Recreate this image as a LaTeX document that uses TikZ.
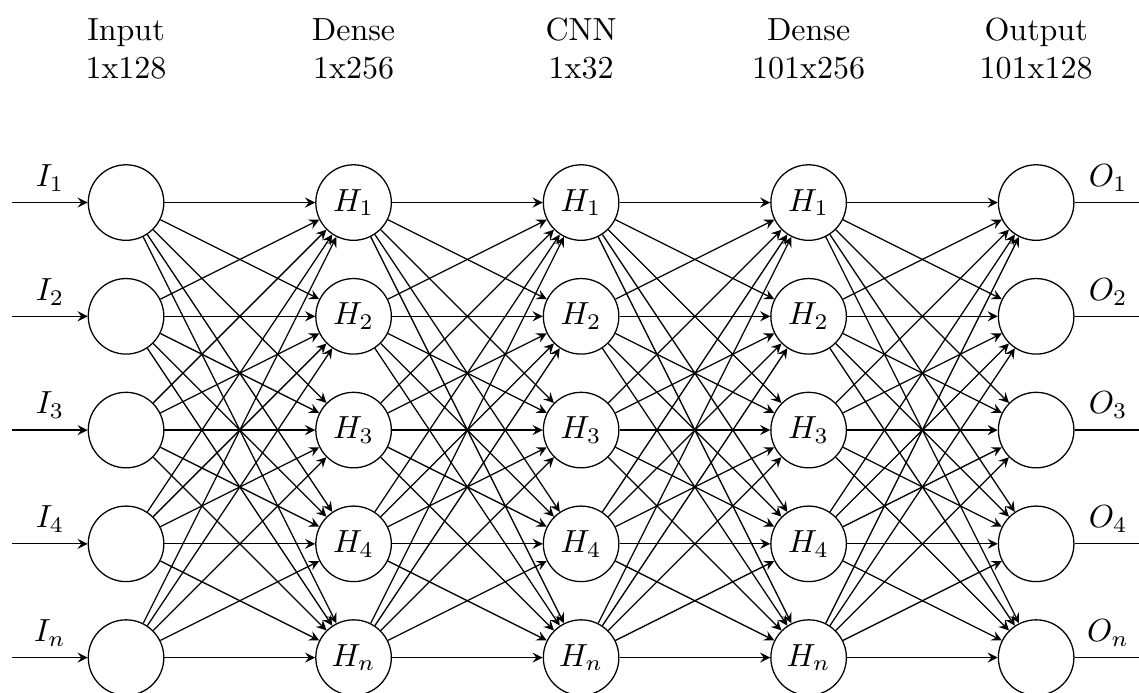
\documentclass[tikz,border=0pt]{standalone}
\usepackage{amsmath,amssymb}

\tikzset{
  neuron/.style={circle, draw, minimum size=0.83cm, inner sep=1pt},
  layerlabel/.style={align=center},
}

\begin{document}
\begin{tikzpicture}[>=stealth]
\useasboundingbox (-1.385,-5.3785) rectangle (11.13,2.2255);

  % layer titles
  \foreach \x/\nm/\txt in {0/I/{Input\\1x128}, 2.5/H1/{Dense\\1x256}, 5/H2/{CNN\\1x32},
                          7.5/H3/{Dense\\101x256}, 10/O/{Output\\101x128}}
    \node[layerlabel] (title-\nm) at (\x,1.69) {\txt};

  % neurons, with the inputs and outputs
  \foreach \i/\k in {1/1,2/2,3/3,4/4,5/n} {
    \node[neuron] (I-\i) at (0,{-1.25*(\i-1)}) {};
    \foreach \l in {1,2,3}
      \node[neuron] (H\l-\i) at ({2.5*\l},{-1.25*(\i-1)}) {$H_\k$};
    \node[neuron] (O-\i) at (10,{-1.25*(\i-1)}) {};
    \coordinate (in-\i) at (-1.25,{-1.25*(\i-1)});
    \coordinate (out-\i) at (11.16,{-1.25*(\i-1)});
    \draw[->] (in-\i) -- (I-\i) node[midway,above] {$I_\k$};
    \draw (O-\i) -- (out-\i) node[midway,above] {$O_\k$};
  }

  % fully connected
  \foreach \a/\b in {I/H1, H1/H2, H2/H3, H3/O}
    \foreach \i in {1,...,5}
      \foreach \j in {1,...,5}
        \draw[->] (\a-\i) -- (\b-\j);
\end{tikzpicture}
\end{document}
